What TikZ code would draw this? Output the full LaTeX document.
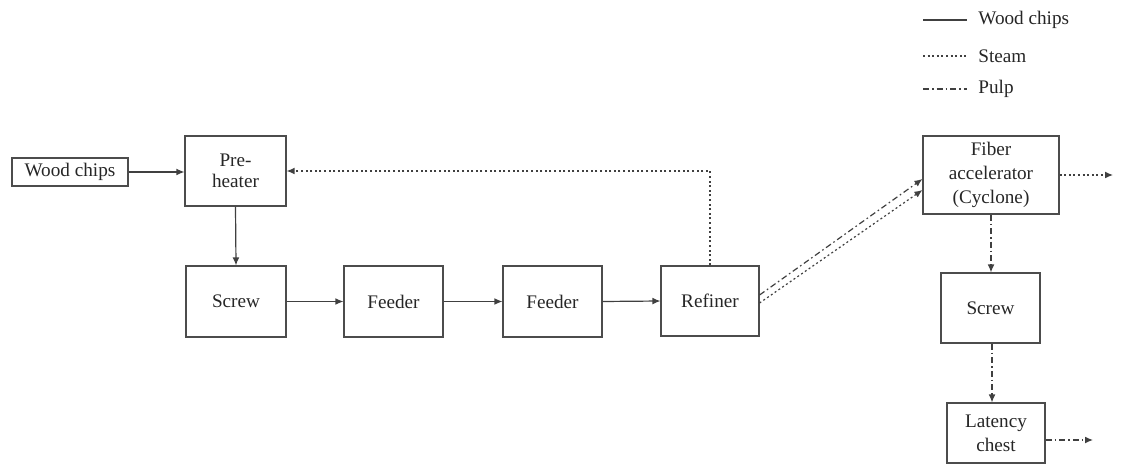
\documentclass[tikz,border=0pt]{standalone}
\usepackage{fontspec}
\setmainfont{Liberation Serif}
\usetikzlibrary{arrows.meta,calc}
\begin{document}
\begin{tikzpicture}[x=0.5pt,y=-0.5pt,
  font=\fontsize{9.6}{12}\selectfont,
  box/.style={draw=black!70,line width=0.55pt,inner sep=0pt,align=center,text=black!85},
  flow/.style={draw=black!75,line width=0.6pt},
  tip/.style={-{Latex[length=4pt,width=3.4pt]}},
  chips/.style={flow},
  steam/.style={flow,dash pattern=on 1pt off 1.3pt},
  pulp/.style={flow,dash pattern=on 3pt off 1.5pt on 0.8pt off 1.5pt},
  legtext/.style={anchor=west,text=black!85,inner sep=0pt}]
\useasboundingbox (0,0) rectangle (1122,475);

% process units
\node[box,minimum width=58pt,minimum height=14pt] (wood) at (70,172) {Wood chips};
\node[box,minimum width=50.5pt,minimum height=35pt,font=\fontsize{9.6}{10.5}\selectfont] (pre) at (235.5,171) {Pre-\\heater};
\node[box,minimum width=50pt,minimum height=35.5pt] (scr1) at (236,301.5) {Screw};
\node[box,minimum width=49.5pt,minimum height=35.5pt] (fd1) at (393.5,301.5) {Feeder};
\node[box,minimum width=49.5pt,minimum height=35.5pt] (fd2) at (552.5,301.5) {Feeder};
\node[box,minimum width=49pt,minimum height=35pt] (ref) at (710,301) {Refiner};
\node[box,minimum width=68pt,minimum height=39pt] (fib) at (991,175) {Fiber\\accelerator\\(Cyclone)};
\node[box,minimum width=49.5pt,minimum height=35pt] (scr2) at (990.5,308) {Screw};
\node[box,minimum width=49pt,minimum height=30pt] (lat) at (996,433) {Latency\\chest};

% free ends of outgoing lines
\coordinate (fibout) at (1113,175);
\coordinate (latout) at (1093,440);

% wood chips path
\draw[chips,tip] (wood.east) -- (wood.east -| pre.west);
\draw[chips,tip] (pre.south) -- (scr1.north);
\draw[chips,tip] (scr1.east) -- (fd1.west);
\draw[chips,tip] (fd1.east) -- (fd2.west);
\draw[chips,tip] (fd2.east) -- (ref.west);

% steam return to pre-heater
\draw[steam,tip] (ref.north) -- (ref.north |- pre.east) -- (pre.east);

% refiner to cyclone
\draw[pulp,tip] ($(ref.east)+(0,-6)$) -- ($(fib.west)+(0,4)$);
\draw[steam,tip] ($(ref.east)+(0,2)$) -- ($(fib.west)+(0,15)$);

% cyclone outlets
\draw[steam,tip] (fib.east) -- (fibout);
\draw[pulp,tip] (fib.south) -- (fib.south |- scr2.north);
\draw[pulp,tip] ($(scr2.south)+(1.5,0)$) -- ($(scr2.south |- lat.north)+(1.5,0)$);
\draw[pulp,tip] (lat.east |- latout) -- (latout);

% legend
\coordinate (l1a) at (923,20);  \coordinate (l1b) at (967,20);
\coordinate (l2a) at (923,56);  \coordinate (l2b) at (967,56);
\coordinate (l3a) at (923,89);  \coordinate (l3b) at (967,89);
\draw[chips] (l1a) -- (l1b);
\draw[steam] (l2a) -- (l2b);
\draw[pulp] (l3a) -- (l3b);
\node[legtext] (t1) at (978,20) {Wood chips};
\node[legtext] (t2) at (978,56) {Steam};
\node[legtext] (t3) at (978,89) {Pulp};
\end{tikzpicture}
\end{document}
